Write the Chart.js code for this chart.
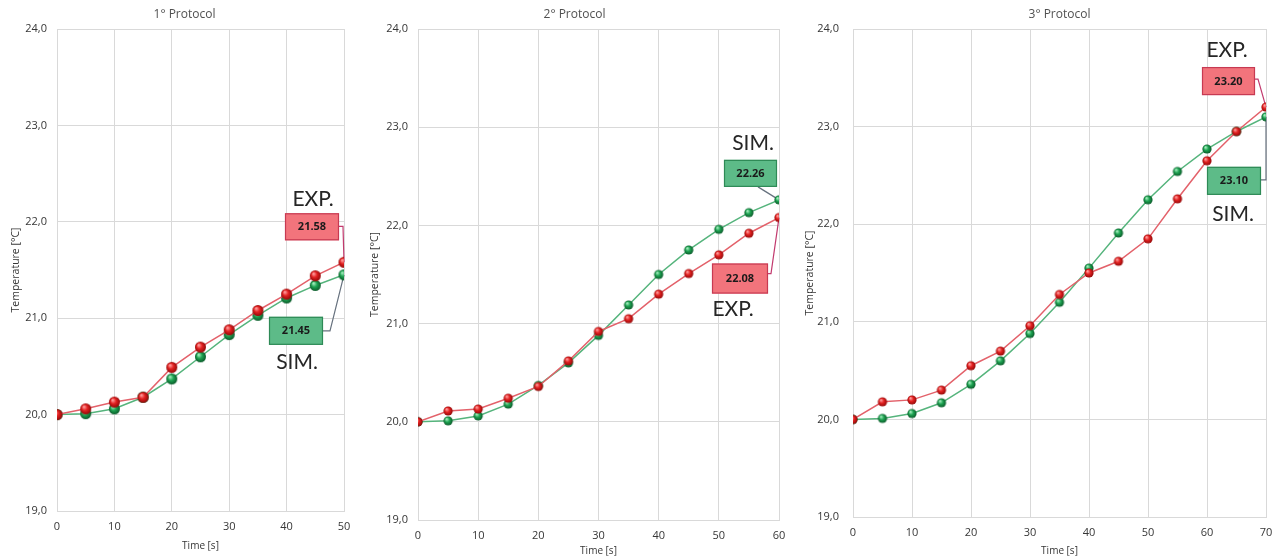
<!DOCTYPE html>
<html>
<head>
<meta charset="utf-8">
<script src="https://cdn.jsdelivr.net/npm/chart.js@4.4.0/dist/chart.umd.min.js"></script>
<style>
    body { margin: 0; width: 1282px; height: 558px; overflow: hidden; background: #ffffff; position: relative; }
    .panel { position: absolute; top: 0; height: 558px; }
</style>
</head>
<body>
<div class="panel" style="left:0px;width:364px"><canvas id="chart1" width="364" height="558"></canvas></div>
<div class="panel" style="left:360px;width:440px"><canvas id="chart2" width="440" height="558"></canvas></div>
<div class="panel" style="left:800px;width:486px"><canvas id="chart3" width="486" height="558"></canvas></div>
<script>
// Data (temperature in °C vs time in s)
const time1 = [0, 5, 10, 15, 20, 25, 30, 35, 40, 45, 50];
const exp1 = [20.00, 20.06, 20.13, 20.18, 20.49, 20.70, 20.88, 21.08, 21.25, 21.44, 21.58];
const sim1 = [20.00, 20.01, 20.06, 20.18, 20.37, 20.60, 20.83, 21.03, 21.21, 21.34, 21.45];

const time2 = [0, 5, 10, 15, 20, 25, 30, 35, 40, 45, 50, 55, 60];
const exp2 = [20.00, 20.11, 20.13, 20.24, 20.36, 20.62, 20.92, 21.05, 21.30, 21.51, 21.70, 21.92, 22.08];
const sim2 = [20.00, 20.01, 20.06, 20.18, 20.37, 20.60, 20.88, 21.19, 21.50, 21.75, 21.96, 22.13, 22.26];

const time3 = [0, 5, 10, 15, 20, 25, 30, 35, 40, 45, 50, 55, 60, 65, 70];
const exp3 = [20.00, 20.18, 20.20, 20.30, 20.55, 20.70, 20.96, 21.28, 21.50, 21.62, 21.85, 22.26, 22.65, 22.95, 23.20];
const sim3 = [20.00, 20.01, 20.06, 20.17, 20.36, 20.60, 20.88, 21.20, 21.55, 21.91, 22.25, 22.54, 22.77, 22.95, 23.10];

const titles = ['1° Protocol', '2° Protocol', '3° Protocol'];
const xMax = [50, 60, 70];
const yTicks = [19, 20, 21, 22, 23, 24];

// Colours
const colors = {
    expLine: '#e3616a',
    simLine: '#55b47c',
    expBox: '#f2747c',
    expBoxBorder: '#c73a52',
    simBox: '#5dbb88',
    simBoxBorder: '#2e8a56',
    expLink: '#c23a6e',
    simLink: '#66717e',
    grid: '#d9d9d9',
    tick: '#363636',
    title: '#505050'
};

// little shaded balls used as point markers
function makeBall(r, hi, mid, dark) {
    const c = document.createElement('canvas');
    const s = Math.ceil(r * 2 + 2);
    c.width = s;
    c.height = s;
    const g = c.getContext('2d');
    const cx = s / 2, cy = s / 2;
    const grad = g.createRadialGradient(cx - r * 0.35, cy - r * 0.4, r * 0.1, cx, cy, r);
    grad.addColorStop(0, hi);
    grad.addColorStop(0.45, mid);
    grad.addColorStop(1, dark);
    g.fillStyle = grad;
    g.beginPath();
    g.arc(cx, cy, r, 0, Math.PI * 2);
    g.fill();
    return c;
}

function toPoints(xs, ys) {
    return xs.map((x, i) => ({ x: x, y: ys[i] }));
}

// Panel title, drawn above the plot area (offset from its centre)
const panelTitlePlugin = {
    id: 'panelTitle',
    afterDraw(chart, args, opts) {
        const { ctx, chartArea } = chart;
        ctx.save();
        ctx.fillStyle = colors.title;
        ctx.font = '12px "Open Sans"';
        ctx.textAlign = 'center';
        ctx.textBaseline = 'middle';
        ctx.fillText(opts.text, (chartArea.left + chartArea.right) / 2 + opts.dx, chartArea.top - 14);
        ctx.restore();
    }
};

// Callout boxes (EXP. / SIM.) anchored on the last point of a series
const calloutPlugin = {
    id: 'callouts',
    beforeDatasetsDraw(chart, args, opts) {
        const ctx = chart.ctx;
        (opts.items || []).forEach(item => {
            const meta = chart.getDatasetMeta(item.dataset);
            const last = meta.data[meta.data.length - 1];
            const px = last.x, py = last.y;
            ctx.save();
            ctx.strokeStyle = item.link;
            ctx.lineWidth = 1.2;
            ctx.beginPath();
            item.path.forEach((p, i) => {
                if (i === 0) ctx.moveTo(px + p[0], py + p[1]);
                else ctx.lineTo(px + p[0], py + p[1]);
            });
            ctx.stroke();
            ctx.restore();
        });
    },
    afterDatasetsDraw(chart, args, opts) {
        const ctx = chart.ctx;
        (opts.items || []).forEach(item => {
            const meta = chart.getDatasetMeta(item.dataset);
            const last = meta.data[meta.data.length - 1];
            const values = chart.data.datasets[item.dataset].data;
            const value = values[values.length - 1].y;
            const px = last.x, py = last.y;
            const [bx, by, bw, bh] = item.box;
            ctx.save();
            ctx.fillStyle = item.fill;
            ctx.strokeStyle = item.border;
            ctx.lineWidth = 1.2;
            ctx.fillRect(px + bx, py + by, bw, bh);
            ctx.strokeRect(px + bx + 0.5, py + by + 0.5, bw - 1, bh - 1);
            ctx.fillStyle = '#1a1a1a';
            ctx.font = 'bold 11px "Open Sans"';
            ctx.textAlign = 'center';
            ctx.textBaseline = 'middle';
            ctx.fillText(value.toFixed(2), px + bx + bw / 2, py + by + bh / 2 + 0.5);
            ctx.fillStyle = '#262626';
            ctx.font = '21px Lato';
            ctx.fillText(item.label, px + item.labelAt[0], py + item.labelAt[1]);
            ctx.restore();
        });
    }
};

function makeChart(id, idx, xs, expVals, simVals, layout) {
    const ctx = document.getElementById(id);
    const r = layout.pointRadius;
    const redBall = makeBall(r, '#ff9c9c', '#e42222', '#930808');
    const greenBall = makeBall(r, '#a3ecbd', '#1ea452', '#0a5a29');

    return new Chart(ctx, {
        type: 'line',
        data: {
            datasets: [
                {
                    label: 'EXP.',
                    data: toPoints(xs, expVals),
                    borderColor: colors.expLine,
                    borderWidth: 1.5,
                    pointStyle: redBall,
                    pointRadius: r,
                    tension: 0
                },
                {
                    label: 'SIM.',
                    data: toPoints(xs, simVals),
                    borderColor: colors.simLine,
                    borderWidth: 1.5,
                    pointStyle: greenBall,
                    pointRadius: r,
                    tension: 0
                }
            ]
        },
        options: {
            responsive: false,
            animation: false,
            layout: {
                padding: { left: 0, right: layout.padRight, top: 29, bottom: 0 }
            },
            plugins: {
                legend: { display: false },
                tooltip: { enabled: false },
                title: { display: false },
                panelTitle: { text: titles[idx], dx: layout.titleDx },
                callouts: { items: layout.callouts }
            },
            scales: {
                x: {
                    type: 'linear',
                    min: 0,
                    max: xMax[idx],
                    afterFit: scale => { scale.height = layout.xAxisH; },
                    ticks: {
                        stepSize: 10,
                        padding: 9,
                        color: colors.tick,
                        font: { family: 'Open Sans', size: 11 }
                    },
                    grid: { color: colors.grid, drawTicks: false },
                    border: { color: colors.grid },
                    title: {
                        display: true,
                        text: 'Time [s]',
                        color: colors.tick,
                        font: { family: 'Open Sans', size: 10 },
                        padding: { top: 0, bottom: layout.xTitlePad }
                    }
                },
                y: {
                    min: 19,
                    max: 24,
                    afterFit: scale => { scale.width = layout.yAxisW; },
                    afterBuildTicks: scale => { scale.ticks = yTicks.map(v => ({ value: v })); },
                    ticks: {
                        padding: layout.yTickPad,
                        color: colors.tick,
                        font: { family: 'Open Sans', size: 11 },
                        callback: v => v.toFixed(1).replace('.', ',')
                    },
                    grid: { color: colors.grid, drawTicks: false },
                    border: { color: colors.grid },
                    title: {
                        display: true,
                        text: 'Temperature [°C]',
                        color: colors.tick,
                        font: { family: 'Open Sans', size: 10.5 },
                        padding: { top: layout.yTitlePad, bottom: 0 }
                    }
                }
            }
        },
        plugins: [panelTitlePlugin, calloutPlugin]
    });
}

const expStyle = { fill: colors.expBox, border: colors.expBoxBorder, link: colors.expLink };
const simStyle = { fill: colors.simBox, border: colors.simBoxBorder, link: colors.simLink };

makeChart('chart1', 0, time1, exp1, sim1, {
    padRight: 20, yAxisW: 57, xAxisH: 47, xTitlePad: 6, yTickPad: 10, yTitlePad: 10, pointRadius: 5.5, titleDx: -16,
    callouts: [
        { dataset: 0, label: 'EXP.', box: [-59, -49, 54, 27], path: [[-5, -36], [-1, -36], [0, 0]], labelAt: [-31, -63], ...expStyle },
        { dataset: 1, label: 'SIM.', box: [-75, 42, 54, 28], path: [[-21, 56], [-14, 56], [0, 0]], labelAt: [-47, 87], ...simStyle }
    ]
});

makeChart('chart2', 1, time2, exp2, sim2, {
    padRight: 21, yAxisW: 58, xAxisH: 38, xTitlePad: 0.5, yTickPad: 10, yTitlePad: 9, pointRadius: 4.6, titleDx: -24,
    callouts: [
        { dataset: 0, label: 'EXP.', box: [-67, 46, 56, 30], path: [[-11, 56], [-8, 56], [0, 0]], labelAt: [-46, 92], ...expStyle },
        { dataset: 1, label: 'SIM.', box: [-55, -40, 53, 27], path: [[-21, -13], [0, 0]], labelAt: [-26, -57], ...simStyle }
    ]
});

makeChart('chart3', 2, time3, exp3, sim3, {
    padRight: 20, yAxisW: 53, xAxisH: 41, xTitlePad: 0.5, yTickPad: 14, yTitlePad: 4, pointRadius: 4.6, titleDx: 0,
    callouts: [
        { dataset: 0, label: 'EXP.', box: [-64, -40, 53, 28], path: [[-11, -28], [-8, -28], [0, 0]], labelAt: [-39, -57], ...expStyle },
        { dataset: 1, label: 'SIM.', box: [-59, 50, 54, 28], path: [[-5, 63], [0, 63], [0, 0]], labelAt: [-33, 97], ...simStyle }
    ]
});
</script>
</body>
</html>
